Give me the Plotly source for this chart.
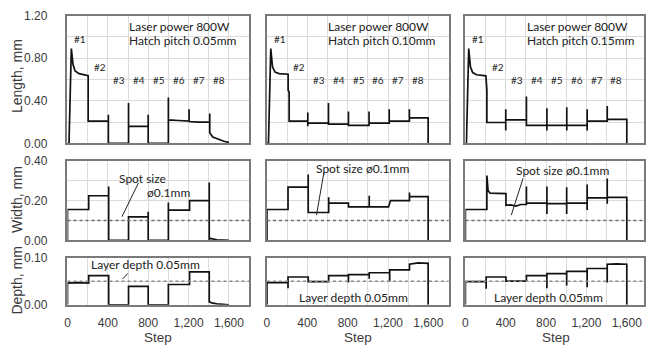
import plotly.graph_objects as go
from plotly.subplots import make_subplots

# ---------------- data ----------------
hatch_labels = ["0.05mm", "0.10mm", "0.15mm"]
sample_labels = ["#1", "#2", "#3", "#4", "#5", "#6", "#7", "#8"]
spot_size = 0.1
layer_depth = 0.05

# Length, hatch 0.05
len05_x = [0, 15, 38, 55, 75, 115, 205, 205, 300, 405, 405, 405, 605, 605, 605, 700, 800, 800, 800,
           1000, 1000, 1000, 1100, 1205, 1205, 1205, 1300, 1410, 1410, 1410, 1440, 1490, 1550, 1600]
len05_y = [0, 0, 0.89, 0.74, 0.68, 0.655, 0.635, 0.21, 0.21, 0.21, 0.27, 0, 0, 0.38, 0.16, 0.16, 0.16, 0.27, 0,
           0, 0.43, 0.22, 0.215, 0.21, 0.32, 0.205, 0.20, 0.20, 0.28, 0.10, 0.06, 0.04, 0.02, 0.01]
# Length, hatch 0.10
len10_x = [0, 15, 38, 55, 80, 120, 210, 210, 220, 220, 300, 405, 405, 405, 405, 500, 610, 610, 610, 700,
           808, 808, 808, 808, 900, 1012, 1012, 1012, 1100, 1212, 1212, 1212, 1300, 1412, 1412, 1412, 1500, 1598, 1598]
len10_y = [0, 0, 0.89, 0.72, 0.67, 0.655, 0.65, 0.50, 0.48, 0.21, 0.21, 0.21, 0.29, 0.16, 0.19, 0.19, 0.19, 0.38, 0.18, 0.18,
           0.18, 0.30, 0.16, 0.17, 0.17, 0.17, 0.30, 0.19, 0.19, 0.19, 0.32, 0.21, 0.21, 0.21, 0.32, 0.24, 0.24, 0.24, 0]
# Length, hatch 0.15
len15_x = [0, 10, 33, 50, 72, 110, 203, 213, 213, 300, 400, 400, 400, 400, 500, 605, 605, 605, 700,
           808, 808, 808, 808, 900, 1005, 1005, 1005, 1005, 1100, 1207, 1207, 1207, 1207, 1300,
           1406, 1406, 1406, 1500, 1600, 1600]
len15_y = [0, 0, 0.89, 0.72, 0.665, 0.645, 0.635, 0.50, 0.196, 0.196, 0.196, 0.32, 0.12, 0.22, 0.22, 0.22, 0.44, 0.17, 0.17,
           0.17, 0.33, 0.12, 0.17, 0.17, 0.17, 0.34, 0.12, 0.17, 0.17, 0.17, 0.32, 0.12, 0.21, 0.21,
           0.21, 0.35, 0.226, 0.226, 0.226, 0]

# Width, hatch 0.05
wid05_x = [0, 0, 210, 210, 408, 408, 408, 605, 605, 800, 800, 800, 1000, 1000, 1000, 1210, 1210,
           1405, 1405, 1405, 1420, 1480, 1600]
wid05_y = [0, 0.155, 0.155, 0.224, 0.224, 0.27, 0, 0, 0.118, 0.118, 0.144, 0, 0, 0.19, 0.152, 0.152, 0.20,
           0.20, 0.29, 0.006, 0.01, 0.003, 0]
# Width, hatch 0.10
wid10_x = [0, 0, 209, 209, 409, 409, 409, 612, 612, 612, 808, 808, 1014, 1014, 1014, 1205, 1225,
           1413, 1413, 1413, 1598, 1598]
wid10_y = [0, 0.155, 0.155, 0.267, 0.267, 0.33, 0.14, 0.14, 0.216, 0.187, 0.187, 0.168, 0.168, 0.224, 0.168, 0.168, 0.20,
           0.20, 0.24, 0.22, 0.22, 0]
# Width, hatch 0.15
wid15_x = [0, 0, 206, 213, 213, 225, 245, 300, 402, 402, 450, 500, 550, 605, 605, 605, 605, 700,
           808, 808, 808, 808, 900, 1004, 1004, 1004, 1004, 1100, 1207, 1207, 1207, 1207, 1300,
           1406, 1406, 1406, 1406, 1500, 1600, 1600]
wid15_y = [0, 0.155, 0.155, 0.155, 0.325, 0.25, 0.237, 0.235, 0.235, 0.176, 0.178, 0.172, 0.18, 0.18, 0.27, 0.18, 0.187, 0.187,
           0.187, 0.27, 0.133, 0.184, 0.184, 0.184, 0.267, 0.133, 0.187, 0.187, 0.187, 0.28, 0.152, 0.213, 0.213,
           0.213, 0.31, 0.184, 0.216, 0.216, 0.216, 0]

# Depth, hatch 0.05
dep05_x = [0, 0, 100, 210, 210, 408, 408, 605, 605, 800, 800, 1000, 1000, 1210, 1210, 1405, 1405,
           1430, 1480, 1550, 1600]
dep05_y = [0, 0.046, 0.047, 0.046, 0.062, 0.062, 0, 0, 0.039, 0.039, 0, 0, 0.043, 0.043, 0.070, 0.070, 0.006,
           0.004, 0.002, 0.001, 0]
# Depth, hatch 0.10
dep10_x = [0, 0, 209, 209, 209, 409, 409, 612, 612, 808, 808, 808, 1014, 1014, 1014, 1217, 1217, 1217,
           1413, 1413, 1500, 1598, 1598]
dep10_y = [0, 0.047, 0.047, 0.035, 0.059, 0.059, 0.049, 0.049, 0.062, 0.062, 0.047, 0.064, 0.064, 0.055, 0.068,
           0.068, 0.05, 0.074, 0.074, 0.086, 0.089, 0.088, 0]
# Depth, hatch 0.15
dep15_x = [0, 0, 206, 206, 206, 402, 402, 605, 605, 808, 808, 808, 1004, 1004, 1004, 1207, 1207, 1207,
           1406, 1406, 1406, 1500, 1600, 1600]
dep15_y = [0, 0.049, 0.049, 0.034, 0.059, 0.059, 0.050, 0.050, 0.062, 0.062, 0.035, 0.066, 0.066, 0.041, 0.071,
           0.071, 0.037, 0.077, 0.077, 0.047, 0.086, 0.087, 0.086, 0]

series = [
    [(len05_x, len05_y), (len10_x, len10_y), (len15_x, len15_y)],
    [(wid05_x, wid05_y), (wid10_x, wid10_y), (wid15_x, wid15_y)],
    [(dep05_x, dep05_y), (dep10_x, dep10_y), (dep15_x, dep15_y)],
]
row_titles = ["Length, mm", "Width, mm", "Depth, mm"]
y_ranges = [(0, 1.2), (0, 0.4), (0, 0.1)]
y_dticks = [0.4, 0.2, 0.1]

# ---------------- layout geometry ----------------
W, H = 646, 354
col_px = [(65, 248), (266, 449), (466, 646)]
row_px = [(9, 142), (160, 243), (261, 310)]
px_per_step = 183 / 1800.0

TICK_FONT = dict(family="Liberation Sans, Arial, sans-serif", size=12, color="#3a3a3a")
NOTE_FONT = "Lato, Carlito, sans-serif"

fig = make_subplots(rows=3, cols=3)

for r in range(3):
    for c in range(3):
        xs, ys = series[r][c]
        fig.add_trace(go.Scatter(x=xs, y=ys, mode="lines",
                                 line=dict(color="#111111", width=1.7),
                                 showlegend=False, hoverinfo="skip"),
                      row=r + 1, col=c + 1)

layout_updates = {}
for r in range(3):
    for c in range(3):
        idx = r * 3 + c + 1
        x0, x1 = col_px[c]
        y0, y1 = row_px[r]
        xname = "xaxis" if idx == 1 else f"xaxis{idx}"
        yname = "yaxis" if idx == 1 else f"yaxis{idx}"
        layout_updates[xname] = dict(
            domain=[x0 / W, x1 / W], range=[0, (x1 - x0) / px_per_step],
            tickmode="linear", tick0=0, dtick=400, tickformat=",d",
            showticklabels=(r == 2), ticks="", ticklabelstandoff=6,
            tickfont=TICK_FONT,
            showgrid=True, gridcolor="#dcdcdc", gridwidth=1,
            minor=dict(dtick=200, tick0=0, showgrid=True, gridcolor="#dcdcdc", gridwidth=1),
            showline=True, mirror=True, linecolor="#7a7a7a", linewidth=1.5,
            zeroline=False, fixedrange=True,
        )
        layout_updates[yname] = dict(
            domain=[1 - y1 / H, 1 - y0 / H], range=list(y_ranges[r]),
            tickmode="linear", tick0=0, dtick=y_dticks[r], tickformat=".2f",
            showticklabels=(c == 0), ticks="", ticklabelstandoff=16,
            tickfont=TICK_FONT,
            showgrid=True, gridcolor="#dcdcdc", gridwidth=1,
            minor=dict(dtick=y_dticks[r] / 2, tick0=0, showgrid=True, gridcolor="#dcdcdc", gridwidth=1),
            showline=True, mirror=True, linecolor="#7a7a7a", linewidth=1.5,
            zeroline=False, fixedrange=True,
        )
fig.update_layout(**layout_updates)

annotations = []
shapes = []

def ax_ref(r, c):
    idx = r * 3 + c + 1
    return ("x" if idx == 1 else f"x{idx}"), ("y" if idx == 1 else f"y{idx}")

label_x = [125, 320, 515, 712, 908, 1105, 1300, 1497]
label_y = [0.98, 0.72, 0.60, 0.60, 0.60, 0.60, 0.60, 0.60]

for c in range(3):
    xr, yr = ax_ref(0, c)
    annotations.append(dict(x=590, y=1.10, xref=xr, yref=yr, text="Laser power 800W",
                            showarrow=False, xanchor="left", yanchor="middle",
                            font=dict(family=NOTE_FONT, size=12, color="#222")))
    annotations.append(dict(x=590, y=0.965, xref=xr, yref=yr, text="Hatch pitch " + hatch_labels[c],
                            showarrow=False, xanchor="left", yanchor="middle",
                            font=dict(family=NOTE_FONT, size=12, color="#222")))
    for lx, ly, lt in zip(label_x, label_y, sample_labels):
        annotations.append(dict(x=lx, y=ly, xref=xr, yref=yr, text=lt, showarrow=False,
                                xanchor="center", yanchor="middle",
                                font=dict(family=NOTE_FONT, size=10, color="#222")))
    # reference lines
    xr2, yr2 = ax_ref(1, c)
    shapes.append(dict(type="line", xref=f"{xr2} domain", yref=yr2, x0=0, x1=1, y0=spot_size, y1=spot_size,
                       line=dict(color="#6f6f6f", width=1.4, dash="dot")))
    xr3, yr3 = ax_ref(2, c)
    shapes.append(dict(type="line", xref=f"{xr3} domain", yref=yr3, x0=0, x1=1, y0=layer_depth, y1=layer_depth,
                       line=dict(color="#8a8a8a", width=1.4, dash="dot")))

# Spot size notes
xr, yr = ax_ref(1, 0)
annotations.append(dict(x=746, y=0.313, xref=xr, yref=yr, text="Spot size", showarrow=False,
                        font=dict(family=NOTE_FONT, size=12, color="#222")))
annotations.append(dict(x=1006, y=0.241, xref=xr, yref=yr, text="ø0.1mm", showarrow=False,
                        font=dict(family=NOTE_FONT, size=12, color="#222")))
shapes.append(dict(type="line", xref=xr, yref=yr, x0=703, y0=0.288, x1=540, y1=0.119,
                   line=dict(color="#222", width=1)))
xr, yr = ax_ref(1, 1)
annotations.append(dict(x=947, y=0.361, xref=xr, yref=yr, text="Spot size ø0.1mm", showarrow=False,
                        font=dict(family=NOTE_FONT, size=12, color="#222")))
shapes.append(dict(type="line", xref=xr, yref=yr, x0=563, y0=0.336, x1=491, y1=0.127,
                   line=dict(color="#222", width=1)))
xr, yr = ax_ref(1, 2)
annotations.append(dict(x=962, y=0.352, xref=xr, yref=yr, text="Spot size ø0.1mm", showarrow=False,
                        font=dict(family=NOTE_FONT, size=12, color="#222")))
shapes.append(dict(type="line", xref=xr, yref=yr, x0=572, y0=0.312, x1=455, y1=0.127,
                   line=dict(color="#222", width=1)))

# Layer depth notes
xr, yr = ax_ref(2, 0)
annotations.append(dict(x=775, y=0.0857, xref=xr, yref=yr, text="Layer depth 0.05mm", showarrow=False,
                        font=dict(family=NOTE_FONT, size=12, color="#222")))
shapes.append(dict(type="line", xref=xr, yref=yr, x0=599, y0=0.0667, x1=546, y1=0.0545,
                   line=dict(color="#222", width=1)))
xr, yr = ax_ref(2, 1)
annotations.append(dict(x=862, y=0.0163, xref=xr, yref=yr, text="Layer depth 0.05mm", showarrow=False,
                        font=dict(family=NOTE_FONT, size=12, color="#222")))
xr, yr = ax_ref(2, 2)
annotations.append(dict(x=824, y=0.0163, xref=xr, yref=yr, text="Layer depth 0.05mm", showarrow=False,
                        font=dict(family=NOTE_FONT, size=12, color="#222")))

# Axis titles
title_y_px = [72, 200, 285]
for r in range(3):
    annotations.append(dict(x=14 / W, y=1 - title_y_px[r] / H, xref="paper", yref="paper",
                            text=row_titles[r], textangle=-90, showarrow=False,
                            xanchor="center", yanchor="middle",
                            font=dict(family="Liberation Sans, Arial, sans-serif", size=14, color="#3a3a3a")))
for c in range(3):
    cx = (col_px[c][0] + (col_px[c][0] + 183)) / 2
    annotations.append(dict(x=cx / W, y=1 - 344 / H, xref="paper", yref="paper", text="Step",
                            showarrow=False, xanchor="center", yanchor="middle",
                            font=dict(family="Liberation Sans, Arial, sans-serif", size=13.5, color="#3a3a3a")))

fig.update_layout(
    width=W, height=H, margin=dict(l=0, r=0, t=0, b=0),
    paper_bgcolor="white", plot_bgcolor="white",
    annotations=annotations, shapes=shapes, showlegend=False,
)

fig.write_html("out.html", config={"displayModeBar": False},
               post_script="document.body.style.margin='0';document.body.style.overflow='hidden';")
